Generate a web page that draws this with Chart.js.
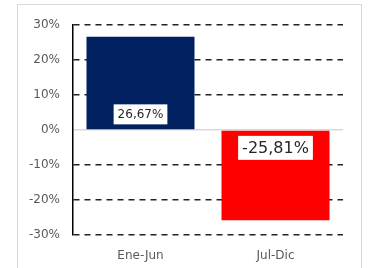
<!DOCTYPE html>
<html lang="es">
<head>
  <meta charset="UTF-8">
  <title>Variación semestral</title>
  <script src="https://cdn.jsdelivr.net/npm/chart.js"></script>
  <style>
    body {
      margin: 0;
      background: #fff;
      font-family: 'DejaVu Sans', sans-serif;
    }
    #frame {
      position: absolute;
      left: 17px;
      top: 4px;
      width: 343px;
      height: 280px;
      border: 1px solid #d9d9d9;
    }
  </style>
</head>
<body>
  <div id="frame">
    <canvas id="semChart" width="343" height="263"></canvas>
  </div>

  <script>
    const periods = ['Ene-Jun', 'Jul-Dic'];
    const changes = [26.67, -25.81];
    const barColors = ['#002060', '#ff0000'];
    const yTicks = [-30, -20, -10, 0, 10, 20, 30];

    const fmt = v => v.toFixed(2).replace('.', ',') + '%';
    const FONT = 'DejaVu Sans';

    // white boxed value labels near the bar base
    const boxLabels = {
      id: 'boxLabels',
      afterDatasetsDraw(chart) {
        const ctx = chart.ctx;
        const meta = chart.getDatasetMeta(0);
        const sizes = [12, 16];
        meta.data.forEach((bar, i) => {
          const v = changes[i];
          const size = sizes[i];
          ctx.save();
          ctx.font = size + 'px "' + FONT + '", sans-serif';
          const text = fmt(v);
          const w = ctx.measureText(text).width + 8;
          const h = size + 8;
          const cy = v >= 0 ? bar.base - 5 - h / 2 : bar.base + 5 + h / 2;
          ctx.fillStyle = '#fff';
          ctx.fillRect(bar.x - w / 2, cy - h / 2, w, h);
          ctx.fillStyle = '#262626';
          ctx.textAlign = 'center';
          ctx.textBaseline = 'middle';
          ctx.fillText(text, bar.x, cy + 1);
          ctx.restore();
        });
      }
    };

    new Chart(document.getElementById('semChart'), {
      type: 'bar',
      data: {
        labels: periods,
        datasets: [{
          data: changes,
          backgroundColor: barColors,
          borderWidth: 0,
          categoryPercentage: 0.8,
          barPercentage: 1
        }]
      },
      options: {
        responsive: false,
        animation: false,
        layout: { padding: { top: 17, right: 18, left: 0, bottom: 0 } },
        plugins: {
          legend: { display: false },
          tooltip: { enabled: false }
        },
        scales: {
          x: {
            grid: { display: false },
            border: { display: false },
            ticks: {
              color: '#595959',
              font: { family: FONT, size: 12 },
              padding: 6
            },
            afterFit(s) { s.height = 33; }
          },
          y: {
            min: -30,
            max: 30,
            afterBuildTicks(s) { s.ticks = yTicks.map(v => ({ value: v })); },
            grid: {
              drawTicks: false,
              color: c => (c.tick && c.tick.value === 0) ? '#d9d9d9' : '#222',
              lineWidth: 1.5
            },
            border: {
              display: true,
              color: '#000',
              width: 1.5,
              dash: c => (c.tick && c.tick.value === 0) ? [] : [6, 5]
            },
            ticks: {
              color: '#595959',
              font: { family: FONT, size: 12 },
              padding: 13,
              callback: v => v + '%'
            },
            afterFit(s) { s.width = 55; }
          }
        }
      },
      plugins: [boxLabels]
    });
  </script>
</body>
</html>
